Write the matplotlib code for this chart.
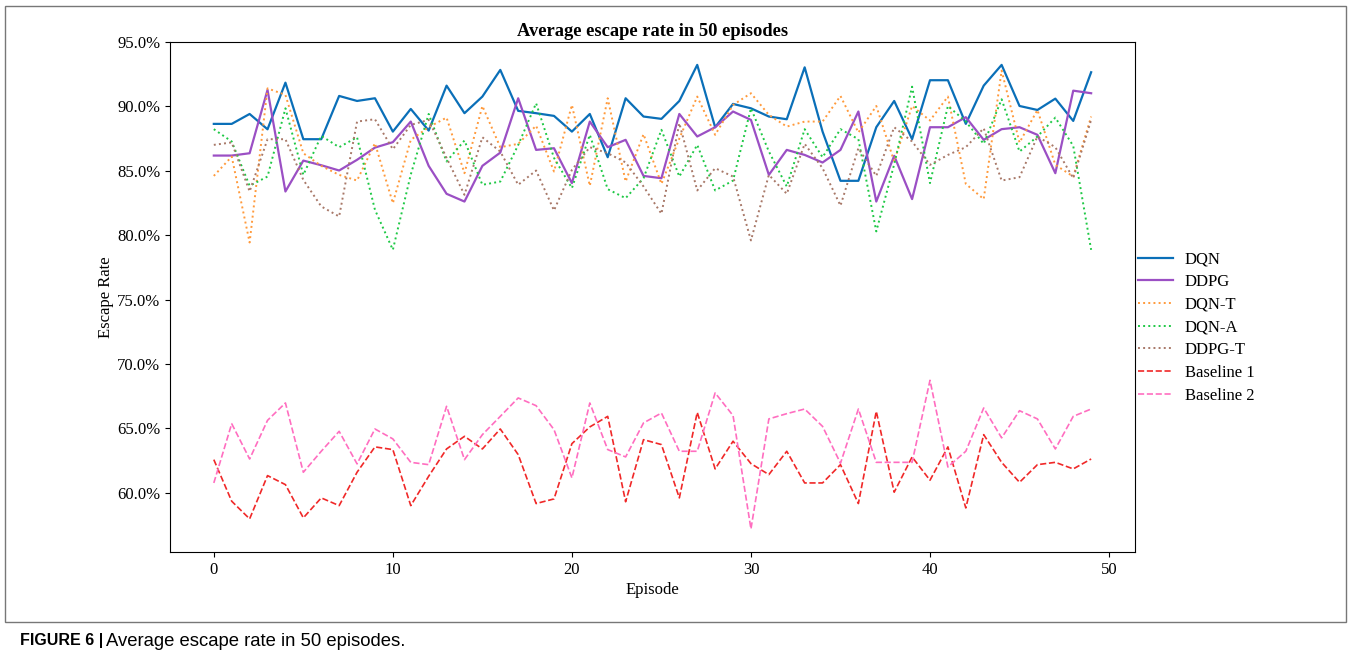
import numpy as np
import matplotlib
matplotlib.use("Agg")
import matplotlib.pyplot as plt
from matplotlib.ticker import FuncFormatter
from matplotlib.patches import Rectangle

plt.rcParams['font.family'] = ['Liberation Serif', 'DejaVu Serif']

episodes = np.arange(50)

dqn = [88.64, 88.64, 89.41, 88.22, 91.84, 87.45, 87.45, 90.81, 90.42, 90.63,
       88.04, 89.80, 88.12, 91.61, 89.47, 90.76, 92.83, 89.65, 89.47, 89.26,
       88.04, 89.41, 86.05, 90.63, 89.21, 89.03, 90.42, 93.22, 88.38, 90.19,
       89.85, 89.21, 89.00, 93.03, 88.04, 84.22, 84.22, 88.38, 90.42, 87.45,
       92.03, 92.03, 88.64, 91.61, 93.22, 90.03, 89.72, 90.60, 88.87, 92.65]
ddpg = [86.18, 86.18, 86.36, 91.28, 83.39, 85.79, 85.43, 85.02, 85.85, 86.80,
        87.22, 88.82, 85.38, 83.21, 82.61, 85.38, 86.41, 90.63, 86.62, 86.75,
        84.04, 88.82, 86.83, 87.40, 84.60, 84.42, 89.41, 87.66, 88.38, 89.60,
        88.95, 84.68, 86.62, 86.23, 85.64, 86.62, 89.60, 82.61, 86.16, 82.80,
        88.38, 88.38, 89.16, 87.40, 88.23, 88.38, 87.79, 84.81, 91.22, 91.02]
dqn_t = [84.60, 86.10, 79.43, 91.40, 90.89, 86.36, 85.38, 84.68, 84.24, 87.14,
         82.48, 87.40, 88.38, 89.13, 84.81, 90.03, 86.83, 87.09, 88.50, 84.94,
         90.11, 83.83, 90.63, 84.16, 87.84, 83.98, 87.50, 90.76, 87.79, 90.11,
         91.02, 89.34, 88.43, 88.82, 88.82, 90.81, 87.97, 90.03, 85.72, 90.03,
         88.90, 90.76, 83.98, 82.80, 92.78, 87.19, 89.72, 85.46, 84.55, 89.21]
dqn_a = [88.23, 87.27, 83.83, 84.55, 89.85, 84.68, 87.71, 86.83, 87.60, 81.97,
         78.86, 84.70, 89.41, 85.72, 87.35, 83.91, 84.16, 87.00, 90.24, 86.00,
         83.65, 87.79, 83.57, 82.87, 84.42, 88.18, 84.55, 87.01, 83.47, 84.24,
         89.85, 86.50, 83.78, 88.23, 86.05, 88.23, 87.45, 80.29, 85.50, 91.53,
         84.04, 90.03, 88.82, 87.09, 90.55, 86.49, 87.66, 89.13, 86.93, 78.86]
ddpg_t = [87.01, 87.20, 83.39, 87.45, 87.45, 84.29, 82.23, 81.45, 88.82, 89.00,
          86.67, 88.56, 88.95, 86.00, 83.13, 87.60, 86.49, 83.91, 85.02, 81.92,
          85.07, 86.83, 86.36, 85.65, 83.78, 81.66, 88.69, 83.47, 85.20, 84.55,
          79.59, 84.68, 83.21, 87.09, 85.20, 82.29, 86.75, 84.60, 88.38, 87.27,
          85.46, 86.23, 86.83, 88.30, 84.24, 84.50, 87.66, 86.83, 84.42, 88.95]
baseline1 = [62.57, 59.34, 57.97, 61.33, 60.63, 58.05, 59.60, 59.00, 61.59, 63.56,
             63.35, 59.00, 61.28, 63.40, 64.38, 63.40, 64.95, 62.96, 59.16, 59.52,
             63.81, 65.11, 65.93, 59.30, 64.12, 63.74, 59.60, 66.24, 61.85, 64.00,
             62.26, 61.41, 63.22, 60.76, 60.76, 62.18, 59.16, 66.32, 60.04, 62.78,
             60.97, 63.56, 58.82, 64.51, 62.36, 60.81, 62.18, 62.36, 61.85, 62.62]
baseline2 = [60.76, 65.36, 62.62, 65.62, 66.97, 61.59, 63.22, 64.77, 62.24, 64.95,
             64.18, 62.36, 62.18, 66.71, 62.57, 64.51, 65.93, 67.36, 66.76, 64.90,
             61.15, 66.97, 63.35, 62.78, 65.42, 66.19, 63.22, 63.22, 67.75, 65.99,
             57.19, 65.73, 66.14, 66.50, 65.15, 62.29, 66.50, 62.36, 62.36, 62.36,
             68.73, 62.00, 63.22, 66.58, 64.26, 66.37, 65.73, 63.40, 65.93, 66.50]

fig = plt.figure(figsize=(13.52, 6.62), dpi=100)
ax = fig.add_axes([0.1257, 0.1662, 0.7138, 0.7704])

ax.plot(episodes, dqn, color='#0a6fb8', lw=1.6, label='DQN')
ax.plot(episodes, ddpg, color='#9b4fc4', lw=1.6, label='DDPG')
ax.plot(episodes, dqn_t, color='#ff9a3c', lw=1.4, ls=':', label='DQN-T')
ax.plot(episodes, dqn_a, color='#1ec845', lw=1.4, ls=':', label='DQN-A')
ax.plot(episodes, ddpg_t, color='#a87868', lw=1.4, ls=':', label='DDPG-T')
ax.plot(episodes, baseline1, color='#f02828', lw=1.2, ls='--', label='Baseline 1')
ax.plot(episodes, baseline2, color='#ff6ec0', lw=1.2, ls='--', label='Baseline 2')

ax.set_ylim(55.4, 95.0)
ax.set_yticks(np.arange(60, 96, 5))
ax.yaxis.set_major_formatter(FuncFormatter(lambda v, p: '%.1f%%' % v))
ax.set_xticks(np.arange(0, 51, 10))
ax.tick_params(labelsize=12)
ax.set_title('Average escape rate in 50 episodes', fontsize=13.3, fontweight='bold', pad=4)
ax.set_xlabel('Episode', fontsize=12, labelpad=3)
ax.set_ylabel('Escape Rate', fontsize=12, labelpad=2)

ax.legend(loc='center left', bbox_to_anchor=(1.0, 0.44), frameon=False,
          fontsize=12, handlelength=2.1, handletextpad=0.7, labelspacing=0.4,
          borderaxespad=0.0, borderpad=0.2)

fig.patches.append(Rectangle((5 / 1352, 1 - 622 / 662), 1341 / 1352, 616 / 662,
                             transform=fig.transFigure, fill=False,
                             edgecolor='#777777', lw=1.0))

cap = fig.text(20 / 1352, 1 - 641 / 662, 'FIGURE 6 |', fontsize=11.5, fontweight='bold',
               family=['Liberation Sans', 'DejaVu Sans'], va='center', ha='left')
fig.text(106 / 1352, 1 - 641 / 662, 'Average escape rate in 50 episodes.', fontsize=13.3,
         family=['Liberation Sans', 'DejaVu Sans'], va='center', ha='left')

fig.savefig('out.png', dpi=100)
